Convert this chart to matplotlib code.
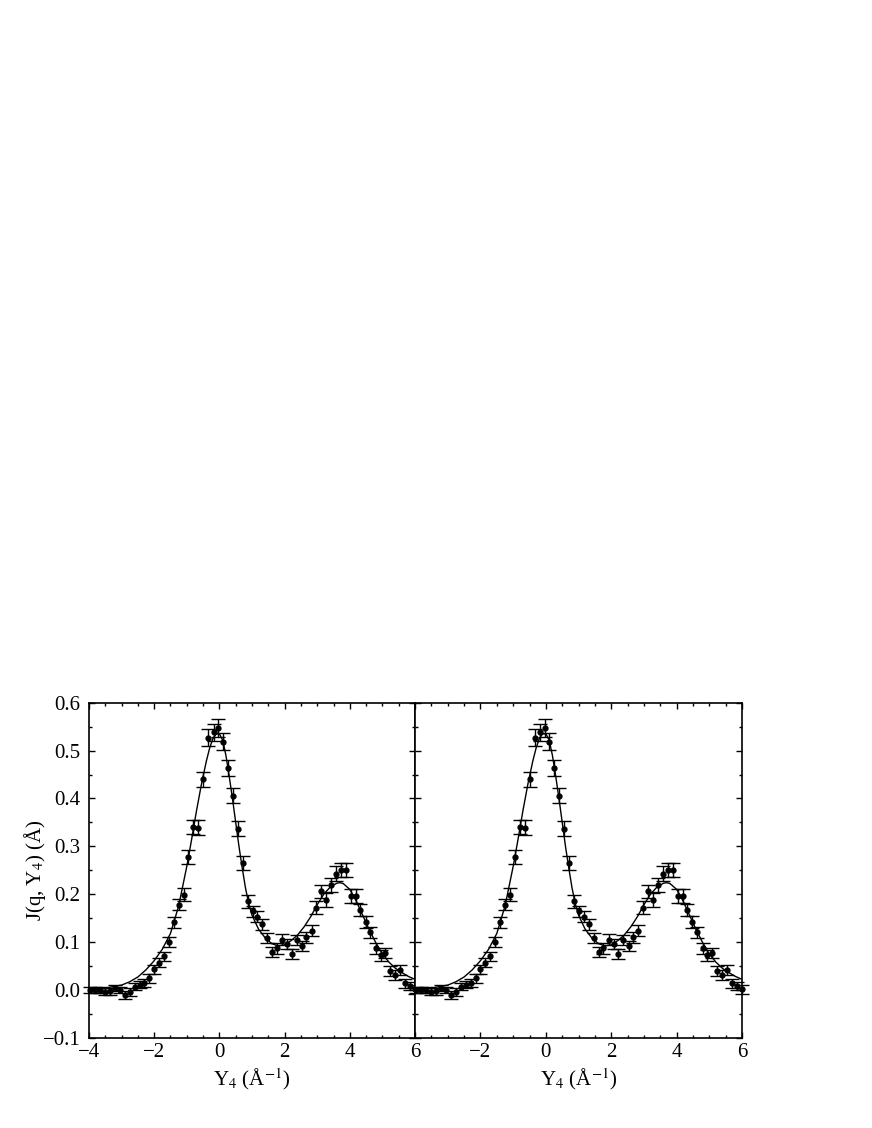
import numpy as np
import matplotlib.pyplot as plt
from matplotlib.ticker import MultipleLocator

plt.rcParams['font.family'] = ['Liberation Serif', 'DejaVu Serif']
plt.rcParams['mathtext.fontset'] = 'stix'

# measured points: Y4, J(q,Y4), error
y4_data = [-3.97, -3.82, -3.66, -3.51, -3.36, -3.21, -3.05, -2.90, -2.74, -2.59,
           -2.43, -2.30, -2.15, -2.00, -1.85, -1.70, -1.55, -1.40, -1.25, -1.10,
           -0.95, -0.80, -0.65, -0.49, -0.34, -0.18, -0.04, 0.10, 0.26, 0.41,
           0.56, 0.71, 0.87, 1.02, 1.16, 1.31, 1.47, 1.62, 1.76, 1.92,
           2.07, 2.22, 2.37, 2.53, 2.67, 2.83, 2.97, 3.12, 3.28, 3.42,
           3.58, 3.73, 3.88, 4.03, 4.18, 4.32, 4.48, 4.63, 4.79, 4.94,
           5.08, 5.23, 5.39, 5.54, 5.69, 5.83, 5.99]
j_data = [0.000, 0.000, 0.000, -0.004, -0.003, 0.004, 0.000, -0.010, -0.005, 0.007,
          0.011, 0.014, 0.024, 0.043, 0.057, 0.070, 0.100, 0.141, 0.178, 0.199,
          0.278, 0.341, 0.339, 0.440, 0.527, 0.538, 0.547, 0.519, 0.463, 0.406,
          0.337, 0.265, 0.185, 0.164, 0.153, 0.137, 0.108, 0.079, 0.087, 0.105,
          0.096, 0.075, 0.104, 0.092, 0.110, 0.124, 0.172, 0.206, 0.188, 0.219,
          0.243, 0.250, 0.250, 0.196, 0.196, 0.167, 0.142, 0.120, 0.087, 0.072,
          0.077, 0.040, 0.031, 0.042, 0.014, 0.008, 0.001]
j_err = [0.007, 0.007, 0.007, 0.007, 0.007, 0.007, 0.007, 0.008, 0.008, 0.008,
         0.008, 0.008, 0.009, 0.009, 0.010, 0.010, 0.011, 0.011, 0.012, 0.013,
         0.014, 0.015, 0.015, 0.016, 0.018, 0.018, 0.018, 0.018, 0.017, 0.016,
         0.015, 0.014, 0.013, 0.012, 0.012, 0.012, 0.011, 0.011, 0.011, 0.011,
         0.011, 0.011, 0.011, 0.011, 0.012, 0.012, 0.013, 0.014, 0.014, 0.014,
         0.015, 0.015, 0.015, 0.014, 0.014, 0.013, 0.013, 0.012, 0.012, 0.011,
         0.011, 0.010, 0.010, 0.010, 0.009, 0.009, 0.009]

# fitted curve
y4_fit = [-4.0, -3.5, -3.0, -2.75, -2.5, -2.25, -2.0, -1.75, -1.5, -1.25,
          -1.0, -0.85, -0.7, -0.55, -0.4, -0.3, -0.2, -0.1, 0.0, 0.1,
          0.2, 0.3, 0.4, 0.5, 0.6, 0.7, 0.8, 0.9, 1.0, 1.2,
          1.4, 1.6, 1.8, 2.0, 2.2, 2.4, 2.6, 2.8, 3.0, 3.2,
          3.4, 3.6, 3.7, 3.8, 4.0, 4.2, 4.4, 4.6, 4.8, 5.0,
          5.2, 5.4, 5.6, 5.8, 6.0]
j_fit = [0.003, 0.004, 0.010, 0.017, 0.027, 0.042, 0.061, 0.085, 0.118, 0.175,
         0.258, 0.315, 0.375, 0.430, 0.478, 0.505, 0.525, 0.535, 0.535, 0.522,
         0.490, 0.447, 0.400, 0.350, 0.300, 0.255, 0.213, 0.180, 0.156, 0.127,
         0.109, 0.097, 0.092, 0.094, 0.103, 0.115, 0.132, 0.153, 0.178, 0.200,
         0.215, 0.223, 0.224, 0.222, 0.210, 0.185, 0.155, 0.125, 0.098, 0.075,
         0.058, 0.045, 0.036, 0.028, 0.022]

xticks = [-4, -2, 0, 2, 4, 6]
yticks = [-0.1, 0.0, 0.1, 0.2, 0.3, 0.4, 0.5, 0.6]

fig = plt.figure(figsize=(8.72, 11.28), dpi=100)
ax_l = fig.add_axes([0.102, 0.080, 0.374, 0.297])
ax_r = fig.add_axes([0.476, 0.080, 0.375, 0.297])

for ax in (ax_l, ax_r):
    ax.errorbar(y4_data, j_data, yerr=j_err, fmt='o', color='black',
                markersize=3.5, elinewidth=1.0, capsize=5, capthick=1.0,
                clip_on=False, zorder=3)
    ax.plot(y4_fit, j_fit, color='black', linewidth=1.0, zorder=2)
    ax.set_xlim(-4, 6)
    ax.set_ylim(-0.1, 0.6)
    ax.set_xticks(xticks)
    ax.set_yticks(yticks)
    ax.xaxis.set_minor_locator(MultipleLocator(0.5))
    ax.yaxis.set_minor_locator(MultipleLocator(0.05))
    ax.tick_params(which='both', direction='in', top=True, right=True,
                   labelsize=15, width=1.0)
    ax.tick_params(which='major', length=4)
    ax.tick_params(which='minor', length=2.5)
    ax.tick_params(axis='y', pad=6)
    for sp in ax.spines.values():
        sp.set_linewidth(1.2)
    ax.set_xlabel(r'Y$_4$ (Å$^{-1}$)', fontsize=15, labelpad=3)

ax_l.set_yticklabels(['\u22120.1', '0.0', '0.1', '0.2', '0.3', '0.4', '0.5', '0.6'])
ax_l.set_xticklabels(['\u22124', '\u22122', '0', '2', '4', '6'])
ax_r.set_xticklabels(['', '\u22122', '0', '2', '4', '6'])
ax_r.tick_params(labelleft=False)
ax_l.set_ylabel(r'J(q, Y$_4$) (Å)', fontsize=15, labelpad=-4)

fig.savefig('out.png', dpi=100)
